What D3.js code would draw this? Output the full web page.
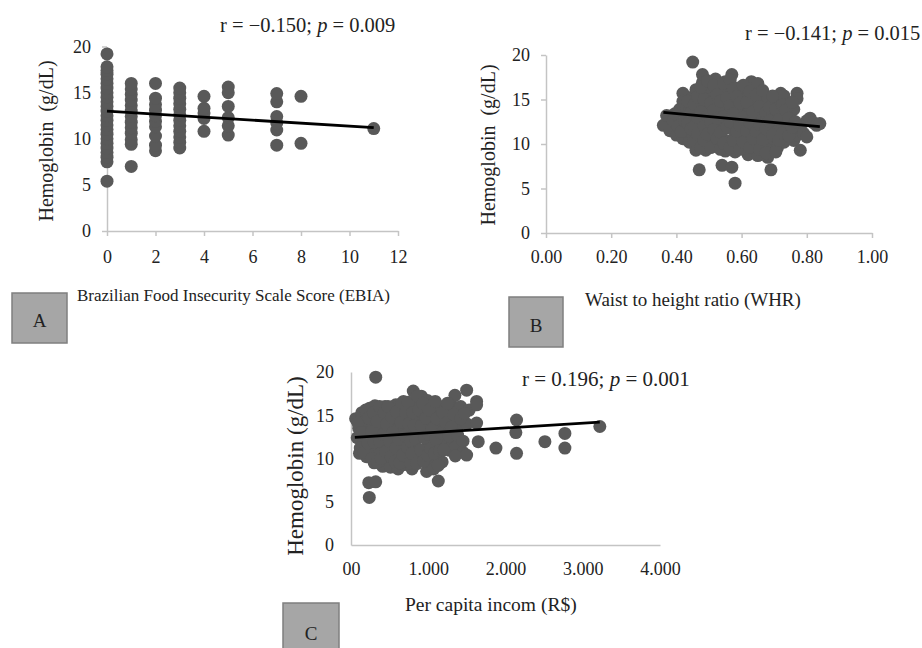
<!DOCTYPE html>
<html>
<head>
<meta charset="utf-8">
<script src="https://cdnjs.cloudflare.com/ajax/libs/d3/7.8.5/d3.min.js"></script>
<style>
  body { margin: 0; background: #fff; }
  svg { display: block; }
  text { font-family: "Liberation Serif", "Times New Roman", serif; fill: #222; }
</style>
</head>
<body>
<div id="chart"></div>
<script>
// Hemoglobin axis, shared by all three panels
var hbTicks = [0, 5, 10, 15, 20];

// Panel A: EBIA score (columns) and hemoglobin values per column
var aScore = [0, 1, 2, 3, 4, 5, 7, 8, 11];
var aHb = [
  [5.4, 7.5, 8.0, 8.5, 9.0, 9.5, 10.0, 10.5, 11.0, 11.5, 12.0, 12.5, 13.0, 13.5, 14.0, 14.5, 15.0, 15.5, 16.0, 16.5, 17.0, 17.4, 17.8, 19.2],
  [7.0, 9.4, 9.9, 10.6, 11.2, 11.8, 12.4, 13.0, 13.6, 14.2, 14.8, 15.4, 16.0],
  [8.7, 9.3, 10.3, 11.3, 11.9, 12.5, 13.1, 13.7, 14.4, 16.0],
  [9.0, 9.6, 10.2, 10.8, 11.4, 12.0, 12.6, 13.2, 13.8, 14.4, 15.0, 15.5],
  [10.8, 12.2, 12.8, 13.3, 14.6],
  [10.4, 11.4, 12.3, 13.5, 15.0, 15.6],
  [9.3, 10.95, 11.7, 12.4, 14.0, 14.9],
  [9.5, 14.6],
  [11.1]
];
var aTrend = [[0, 13.0], [11, 11.2]];
var aTicks = [0, 2, 4, 6, 8, 10, 12];

// Panel B: waist to height ratio vs hemoglobin
var bPoints = [
  [0.36, 12.1], [0.37, 13.2], [0.38, 11.5], [0.39, 12.6], [0.40, 11.0], [0.41, 13.9], [0.41, 12.2],
  [0.42, 15.7], [0.42, 14.8], [0.42, 10.6], [0.43, 13.1], [0.43, 11.6], [0.44, 14.2], [0.44, 10.2],
  [0.45, 19.2], [0.45, 15.3], [0.45, 12.8], [0.45, 11.0], [0.46, 13.8], [0.46, 9.3], [0.46, 16.1],
  [0.47, 7.1], [0.47, 14.9], [0.47, 12.0], [0.47, 10.4],
  [0.48, 17.8], [0.48, 16.9], [0.48, 13.2], [0.48, 11.3], [0.49, 15.6], [0.49, 14.4], [0.49, 12.5],
  [0.49, 9.3], [0.50, 16.4], [0.50, 10.1], [0.50, 13.7], [0.50, 11.8],
  [0.51, 15.1], [0.51, 12.9], [0.51, 10.9], [0.52, 17.3], [0.52, 14.2], [0.52, 9.8], [0.53, 16.2],
  [0.53, 12.1], [0.53, 13.6], [0.53, 10.5],
  [0.54, 7.6], [0.54, 15.5], [0.54, 11.4], [0.55, 17.0], [0.55, 14.0], [0.55, 9.2], [0.55, 12.7],
  [0.56, 16.0], [0.56, 10.3], [0.56, 13.3],
  [0.57, 17.8], [0.57, 7.4], [0.57, 15.0], [0.57, 11.7], [0.58, 5.6], [0.58, 14.1], [0.58, 9.1],
  [0.58, 12.4], [0.59, 16.3], [0.59, 10.6], [0.59, 13.0],
  [0.60, 15.4], [0.60, 11.2], [0.60, 14.0], [0.61, 9.6], [0.61, 12.6], [0.61, 16.0], [0.62, 13.4],
  [0.62, 10.4], [0.62, 8.8],
  [0.63, 17.0], [0.63, 15.0], [0.63, 11.8], [0.64, 14.1], [0.64, 9.5], [0.64, 12.9], [0.65, 16.8],
  [0.65, 10.8], [0.65, 8.7],
  [0.66, 15.0], [0.66, 13.4], [0.66, 11.5], [0.67, 14.5], [0.67, 10.1], [0.67, 12.4], [0.68, 15.0],
  [0.68, 8.5], [0.68, 11.0],
  [0.69, 7.1], [0.69, 13.7], [0.69, 9.8], [0.70, 15.0], [0.70, 12.1], [0.70, 10.6], [0.71, 14.3],
  [0.71, 9.6], [0.71, 11.4],
  [0.72, 15.7], [0.72, 13.2], [0.73, 15.4], [0.73, 12.5], [0.73, 10.2], [0.74, 14.0], [0.74, 11.8],
  [0.75, 12.9], [0.76, 13.9], [0.76, 10.4],
  [0.77, 15.7], [0.77, 15.1], [0.77, 11.0], [0.78, 9.3], [0.78, 11.8], [0.79, 11.2], [0.80, 12.6],
  [0.80, 10.8], [0.81, 12.9], [0.82, 12.4], [0.83, 12.1], [0.84, 12.3],
  [0.395, 13.4], [0.405, 12.0], [0.415, 11.4], [0.425, 12.6], [0.435, 14.8], [0.435, 12.3],
  [0.445, 13.5], [0.445, 11.7], [0.455, 14.5], [0.455, 12.0], [0.455, 10.3], [0.465, 15.3],
  [0.465, 13.0], [0.465, 11.1], [0.475, 16.4], [0.475, 13.6], [0.475, 9.6], [0.485, 15.0],
  [0.485, 12.0], [0.485, 10.4], [0.495, 17.1], [0.495, 13.1], [0.495, 11.1], [0.505, 14.6],
  [0.505, 12.4], [0.505, 9.6], [0.515, 16.6], [0.515, 13.8], [0.515, 11.6], [0.525, 15.5],
  [0.525, 12.9], [0.525, 10.6], [0.535, 14.8], [0.535, 11.3], [0.535, 9.4], [0.545, 16.8],
  [0.545, 13.1], [0.545, 10.1], [0.555, 15.2], [0.555, 11.9], [0.565, 17.2], [0.565, 14.3],
  [0.565, 12.5], [0.565, 9.6], [0.575, 16.2], [0.575, 13.4], [0.575, 10.4], [0.585, 15.3],
  [0.585, 11.4], [0.595, 14.6], [0.595, 12.1], [0.595, 9.4], [0.605, 16.6], [0.605, 13.0],
  [0.605, 10.2], [0.615, 14.7], [0.615, 11.5], [0.625, 15.9], [0.625, 12.4], [0.625, 9.6],
  [0.635, 13.6], [0.635, 10.6], [0.645, 15.5], [0.645, 11.4], [0.655, 14.2], [0.655, 12.2],
  [0.655, 9.4], [0.665, 16.0], [0.665, 10.5], [0.675, 13.5], [0.675, 11.7], [0.675, 9.0],
  [0.685, 14.1], [0.685, 12.6], [0.695, 15.4], [0.695, 11.0], [0.705, 13.9], [0.705, 9.1],
  [0.715, 12.7], [0.715, 10.4], [0.725, 14.4], [0.725, 11.2], [0.735, 13.8], [0.745, 12.9],
  [0.745, 10.9], [0.755, 14.7], [0.755, 11.9], [0.765, 12.5]
];
var bTrend = [[0.36, 13.55], [0.84, 11.95]];
var bTicks = [0, 0.2, 0.4, 0.6, 0.8, 1.0];

// Panel C: per capita income vs hemoglobin
var cPoints = [
  [60, 14.6], [80, 12.4], [100, 13.5], [110, 10.6], [140, 15.3], [150, 11.6], [160, 12.9], [180, 14.3],
  [200, 10.2], [210, 13.0], [230, 7.2], [237, 5.5], [240, 15.8], [250, 12.1], [260, 11.0], [280, 14.0],
  [300, 9.5], [310, 16.1], [320, 19.4], [320, 7.3], [330, 12.6], [350, 15.1], [360, 10.4], [380, 13.6],
  [400, 11.5], [410, 9.1], [420, 14.7], [440, 16.0], [450, 12.2], [470, 10.0], [490, 13.9], [500, 15.4],
  [510, 9.0], [530, 11.3], [550, 14.5], [560, 12.7], [580, 16.2], [600, 10.5], [610, 8.8], [620, 13.4],
  [640, 15.0], [660, 11.8], [680, 16.6], [690, 9.3], [700, 14.2], [720, 12.3], [740, 10.3], [760, 15.7],
  [780, 13.1], [790, 8.8], [806, 17.8], [820, 11.2], [840, 16.4], [860, 14.4], [870, 9.9], [890, 12.5],
  [910, 17.2], [920, 10.8], [940, 15.3], [960, 13.5], [979, 8.5], [990, 16.7], [1000, 11.6], [1020, 14.0],
  [1040, 9.7], [1060, 16.3], [1070, 12.8], [1090, 15.1], [1100, 10.4], [1120, 13.6], [1130, 7.4],
  [1140, 11.7], [1150, 16.0], [1160, 14.4], [1180, 9.6], [1200, 12.4], [1220, 15.5], [1240, 13.3],
  [1260, 11.5], [1280, 14.6], [1280, 10.95], [1300, 16.2], [1320, 12.0], [1345, 17.3], [1345, 11.2],
  [1360, 15.4], [1400, 13.9], [1420, 16.0], [1450, 10.7], [1497, 17.9], [1497, 10.4], [1500, 14.0],
  [1530, 15.6], [1626, 16.6], [1626, 16.2], [1626, 14.1], [1647, 11.95], [1876, 11.2], [2143, 14.45],
  [2134, 13.0], [2143, 10.6], [2510, 11.95], [2769, 12.9], [2769, 11.2], [3221, 13.7],
  [90, 14.1], [120, 11.2], [130, 13.0], [170, 10.7], [190, 15.6], [220, 11.8], [230, 14.7], [270, 13.1],
  [270, 10.0], [290, 15.3], [300, 11.9], [340, 14.3], [340, 9.6], [370, 16.0], [370, 12.0], [390, 10.0],
  [420, 12.8], [430, 15.3], [450, 10.8], [460, 14.0], [480, 16.0], [500, 12.0], [520, 10.2], [530, 14.8],
  [540, 13.0], [570, 9.6], [580, 11.2], [590, 15.4], [620, 12.2], [630, 9.5], [650, 14.2], [660, 16.4],
  [670, 10.4], [700, 12.7], [710, 15.3], [730, 11.3], [740, 16.5], [750, 14.0], [770, 9.5], [770, 12.0],
  [790, 10.6], [800, 15.3], [820, 13.8], [840, 12.2], [850, 9.4], [860, 17.2], [880, 15.6], [900, 11.0],
  [910, 13.8], [930, 16.4], [940, 9.7], [950, 12.4], [970, 14.7], [990, 10.4], [1010, 12.8], [1010, 15.6],
  [1030, 11.1], [1050, 13.4], [1070, 8.8], [1080, 10.6], [1090, 16.6], [1100, 12.2], [1110, 14.6],
  [1130, 9.2], [1150, 10.9], [1170, 12.9], [1190, 15.3], [1200, 11.0], [1230, 14.1], [1250, 16.4],
  [1270, 12.6], [1300, 13.6], [1330, 15.1], [1350, 10.3], [1380, 12.7], [1420, 14.6], [1450, 12.0],
  [1470, 15.2]
];
var cTrend = [[50, 12.45], [3220, 14.2]];
var cTicks = [0, 1000, 2000, 3000, 4000];
var cTickLabels = ["00", "1.000", "2.000", "3.000", "4.000"];

var svgWidth = 922;
var svgHeight = 648;
var dotColor = "#595959";
var axisColor = "#c4c4c4";

var svg = d3.select("#chart")
  .append("svg")
  .attr("width", svgWidth)
  .attr("height", svgHeight);

function drawPanel(p) {
  var g = svg.append("g");
  var x = d3.scaleLinear().domain(p.xDomain).range(p.xRange);
  var y = d3.scaleLinear().domain([0, 20]).range(p.yRange);

  var xAxis = g.append("g")
    .attr("transform", `translate(0, ${p.yRange[0]})`)
    .call(d3.axisBottom(x).tickValues(p.xTicks).tickFormat(p.xFormat)
      .tickSize(p.tick).tickSizeOuter(0).tickPadding(p.xPad));
  var yAxis = g.append("g")
    .attr("transform", `translate(${p.xRange[0]}, 0)`)
    .call(d3.axisLeft(y).tickValues(hbTicks)
      .tickSize(p.tick).tickSizeOuter(0).tickPadding(p.yPad));

  [xAxis, yAxis].forEach(function(a) {
    a.attr("font-family", null).attr("font-size", null);
    a.select(".domain").attr("stroke", axisColor).attr("stroke-width", 1.5);
    a.selectAll(".tick line").attr("stroke", axisColor).attr("stroke-width", 1.5);
    a.selectAll(".tick text").style("font-size", p.tickFont + "px").attr("fill", "#222");
  });

  g.selectAll("circle.dot")
    .data(p.points)
    .enter()
    .append("circle")
    .attr("class", "dot")
    .attr("cx", d => x(d[0]))
    .attr("cy", d => y(d[1]))
    .attr("r", 6.5)
    .attr("fill", dotColor);

  g.append("path")
    .datum(p.trend)
    .attr("d", d3.line().x(d => x(d[0])).y(d => y(d[1])))
    .attr("stroke", "#000")
    .attr("stroke-width", 2.8)
    .attr("fill", "none");

  // y axis title
  g.append("text")
    .attr("transform", `translate(${p.yTitle[0]}, ${p.yTitle[1]}) rotate(-90)`)
    .attr("text-anchor", "middle")
    .style("font-size", p.yTitleFont + "px")
    .attr("xml:space", "preserve")
    .text(p.yTitleText);

  // x axis title
  g.append("text")
    .attr("x", p.xTitle[0])
    .attr("y", p.xTitle[1])
    .style("font-size", p.xTitleFont + "px")
    .text(p.xTitleText);

  // correlation annotation
  var note = g.append("text")
    .attr("x", p.note[0])
    .attr("y", p.note[1])
    .style("font-size", p.noteFont + "px");
  note.append("tspan").text(p.noteR + "; ");
  note.append("tspan").style("font-style", "italic").text("p");
  note.append("tspan").text(" = " + p.noteP);

  // panel letter box
  g.append("rect")
    .attr("x", p.box[0])
    .attr("y", p.box[1])
    .attr("width", p.box[2])
    .attr("height", p.box[3])
    .attr("fill", "#a6a6a6")
    .attr("stroke", "#7f7f7f")
    .attr("stroke-width", 1.5);
  g.append("text")
    .attr("x", p.box[0] + p.box[2] / 2)
    .attr("y", p.letterY)
    .attr("text-anchor", "middle")
    .style("font-size", "19px")
    .text(p.letter);
}

var panelA = [];
aScore.forEach(function(s, i) {
  aHb[i].forEach(function(v) { panelA.push([s, v]); });
});

drawPanel({
  points: panelA, trend: aTrend,
  xDomain: [0, 12], xRange: [107, 398], yRange: [231, 46.5],
  xTicks: aTicks, xFormat: d3.format("d"), tick: 5, xPad: 14, yPad: 11, tickFont: 18,
  yTitle: [53, 141], yTitleFont: 20, yTitleText: "Hemoglobin  (g/dL)",
  xTitle: [77, 301], xTitleFont: 17, xTitleText: "Brazilian Food Insecurity Scale Score (EBIA)",
  note: [220, 32], noteFont: 20.5, noteR: "r = \u22120.150", noteP: "0.009",
  box: [12, 293, 55, 50], letter: "A", letterY: 327
});

drawPanel({
  points: bPoints, trend: bTrend,
  xDomain: [0, 1], xRange: [546, 872], yRange: [233, 55],
  xTicks: bTicks, xFormat: d3.format(".2f"), tick: 5, xPad: 12, yPad: 11, tickFont: 18,
  yTitle: [495, 145], yTitleFont: 20, yTitleText: "Hemoglobin  (g/dL)",
  xTitle: [585, 306], xTitleFont: 19, xTitleText: "Waist to height ratio (WHR)",
  note: [745, 40], noteFont: 20.5, noteR: "r = \u22120.141", noteP: "0.015",
  box: [509, 297, 54, 50], letter: "B", letterY: 332
});

drawPanel({
  points: cPoints, trend: cTrend,
  xDomain: [0, 4000], xRange: [351, 660], yRange: [545, 372],
  xTicks: cTicks, xFormat: (d, i) => cTickLabels[i], tick: 0, xPad: 17, yPad: 17, tickFont: 18,
  yTitle: [303, 466], yTitleFont: 23, yTitleText: "Hemoglobin (g/dL)",
  xTitle: [405, 611], xTitleFont: 19.5, xTitleText: "Per capita incom (R$)",
  note: [522, 386], noteFont: 21, noteR: "r = 0.196", noteP: "0.001",
  box: [283, 603, 56, 50], letter: "C", letterY: 640
});
</script>
</body>
</html>
